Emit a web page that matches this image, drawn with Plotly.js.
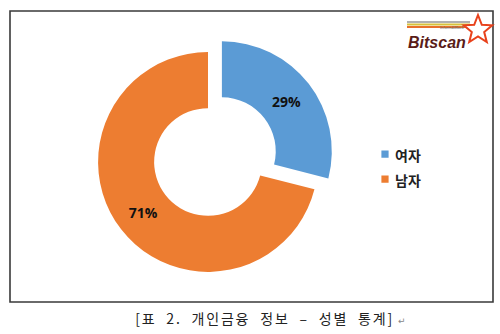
<!DOCTYPE html>
<html><head><meta charset="utf-8">
<script src="https://cdn.plot.ly/plotly-3.0.1.min.js"></script>
<style>
html,body{margin:0;padding:0;background:#fff;}
#chart{width:500px;height:334px;}
.legend .legendpoints path{transform:translate(30px,0) scale(0.6);}
.annotation-text.cap{letter-spacing:1.8px;word-spacing:5px;}
</style>
</head><body><div id="chart"></div>
<script>
const categories = ['여자', '남자'];
const values = [29, 71];
const colors = ['#5b9bd5', '#ed7d31'];
const caption = '[표 2. 개인금융 정보 – 성별 통계]';

function px(x){return x/500;}
function py(y){return 1 - y/334;}

const sc = [478, 30], rO = 15, rI = 6.5;
let sp = '';
for (let i = 0; i < 10; i++) {
  const a = -Math.PI/2 + i*Math.PI/5;
  const r = i % 2 === 0 ? rO : rI;
  const x = sc[0] + r*Math.cos(a), y = sc[1] + r*Math.sin(a);
  sp += (i === 0 ? 'M' : 'L') + px(x).toFixed(4) + ',' + py(y).toFixed(4);
}
sp += 'Z';

const trace = {
  type: 'pie',
  labels: categories.map(c => '<span style="font-size:14px;font-weight:bold">' + c + '</span>'),
  values: values,
  sort: false,
  direction: 'clockwise',
  rotation: 0,
  hole: 0.49,
  pull: [0.16, 0],
  marker: {colors: colors, line: {width: 0}},
  textinfo: 'percent',
  textposition: 'inside',
  insidetextorientation: 'horizontal',
  textfont: {family: 'Open Sans, sans-serif', size: 14, color: '#111', weight: 'bold'},
  domain: {x: [0.161, 0.671], y: [0.133, 0.897]},
  showlegend: true
};

const layout = {
  width: 500, height: 334,
  margin: {l: 0, r: 0, t: 0, b: 0},
  paper_bgcolor: '#fff',
  showlegend: true,
  legend: {
    x: 0.71, y: 0.5, xanchor: 'left', yanchor: 'middle',
    font: {family: 'Noto Sans CJK KR, sans-serif', size: 17, color: '#222'},
    itemwidth: 30, bgcolor: 'rgba(0,0,0,0)'
  },
  shapes: [
    {type: 'rect', xref: 'paper', yref: 'paper', x0: px(10), x1: px(493), y0: py(302), y1: py(11),
     line: {color: '#3a3a3a', width: 1.6}},
    {type: 'line', xref: 'paper', yref: 'paper', x0: px(407), x1: px(470), y0: py(22), y1: py(22), line: {color: '#b0b0b0', width: 2}},
    {type: 'line', xref: 'paper', yref: 'paper', x0: px(407), x1: px(470), y0: py(24.5), y1: py(24.5), line: {color: '#d8c23a', width: 2}},
    {type: 'line', xref: 'paper', yref: 'paper', x0: px(407), x1: px(470), y0: py(27), y1: py(27), line: {color: '#e8702a', width: 2}},
    {type: 'path', xref: 'paper', yref: 'paper', path: sp, fillcolor: '#fff', line: {color: '#e8421c', width: 2}}
  ],
  annotations: [
    {xref: 'paper', yref: 'paper', x: px(437), y: py(32.5), text: '<b><i>Bitscan</i></b>', showarrow: false,
     font: {family: 'Liberation Sans, sans-serif', size: 16, color: '#5a1c18'}, xanchor: 'center', yanchor: 'top'},
    {xref: 'paper', yref: 'paper', x: px(452), y: py(32), text: 'Inform&Block', showarrow: false,
     font: {family: 'Liberation Sans, sans-serif', size: 4, color: '#666'}, xanchor: 'center', yanchor: 'bottom'},
    {xref: 'paper', yref: 'paper', x: px(264), y: py(318), text: caption, showarrow: false,
     font: {family: 'Noto Sans CJK KR, sans-serif', size: 14, color: '#222'}, xanchor: 'center', yanchor: 'middle'},
    {xref: 'paper', yref: 'paper', x: px(402), y: py(321), text: '↵', showarrow: false,
     font: {family: 'DejaVu Sans, sans-serif', size: 9, color: '#888'}, xanchor: 'center', yanchor: 'middle'}
  ]
};

Plotly.newPlot('chart', [trace], layout, {staticPlot: true, displayModeBar: false}).then(gd => {
  const t = gd.querySelectorAll('.annotation-text');
  if (t[2]) t[2].classList.add('cap');
});
</script>
</body></html>
